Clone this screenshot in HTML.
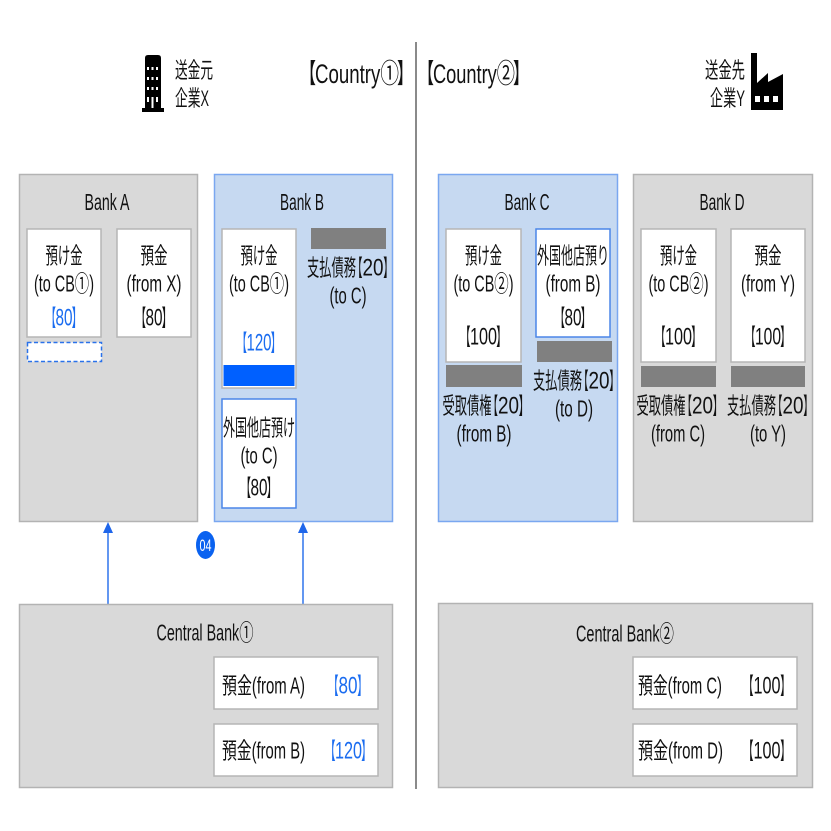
<!DOCTYPE html>
<html><head><meta charset="utf-8"><style>
html,body{margin:0;padding:0;background:#fff;}
svg{display:block;}
text{font-family:"Liberation Sans","Noto Sans CJK JP",sans-serif;fill:#111;font-size:23px;}
.b{fill:#1a6cf0;}
.n{font-size:24px;}
</style></head><body>
<svg width="831" height="831" viewBox="0 0 831 831" xmlns="http://www.w3.org/2000/svg">
<rect x="0" y="0" width="831" height="831" fill="#fff"/>
<line x1="416" y1="42" x2="416" y2="789" stroke="#8a8a8a" stroke-width="2"/>

<!-- building icon -->
<path d="M145,58 Q145,55 148,55 L158,55 Q161,55 161,58 L161,108 L164,108 L164,112 L142,112 L142,108 L145,108 Z" fill="#000"/>
<g fill="#fff">
<rect x="147" y="67" width="2" height="3"/><rect x="151.5" y="67" width="2" height="3"/><rect x="156" y="67" width="2" height="3"/>
<rect x="147" y="77" width="2" height="3"/><rect x="151.5" y="77" width="2" height="3"/><rect x="156" y="77" width="2" height="3"/>
<rect x="147" y="87" width="2" height="3"/><rect x="151.5" y="87" width="2" height="3"/><rect x="156" y="87" width="2" height="3"/>
<rect x="147" y="97" width="2" height="5"/><rect x="151.5" y="97" width="2" height="11"/><rect x="156" y="97" width="2" height="5"/>
</g>
<text x="175" y="78" style="font-size:22px" textLength="38" lengthAdjust="spacingAndGlyphs">送金元</text>
<text x="175" y="106" style="font-size:22px" textLength="34" lengthAdjust="spacingAndGlyphs">企業X</text>

<text x="300" y="83" style="font-size:27px" textLength="16" lengthAdjust="spacingAndGlyphs">【</text>
<text x="315" y="83" style="font-size:27px" textLength="84" lengthAdjust="spacingAndGlyphs">Country①</text>
<text x="397" y="83" style="font-size:27px" textLength="16" lengthAdjust="spacingAndGlyphs">】</text>
<text x="418" y="83" style="font-size:27px" textLength="16" lengthAdjust="spacingAndGlyphs">【</text>
<text x="433" y="83" style="font-size:27px" textLength="82" lengthAdjust="spacingAndGlyphs">Country②</text>
<text x="513" y="83" style="font-size:27px" textLength="16" lengthAdjust="spacingAndGlyphs">】</text>

<text x="705" y="78" style="font-size:22px" textLength="40" lengthAdjust="spacingAndGlyphs">送金先</text>
<text x="710" y="106" style="font-size:22px" textLength="35" lengthAdjust="spacingAndGlyphs">企業Y</text>
<path d="M751,53 L757,53 L757,83 L768,73 L768,82 L783,74 L783,110 L751,110 Z" fill="#000"/>
<g fill="#fff">
<rect x="755" y="96" width="5" height="6"/><rect x="764" y="96" width="5" height="6"/><rect x="773" y="96" width="5" height="6"/>
</g>

<!-- Bank A -->
<rect x="19.5" y="174.5" width="178" height="347" fill="#d9d9d9" stroke="#b3b3b3" stroke-width="1.5"/>
<text x="107" y="210" text-anchor="middle" textLength="45" lengthAdjust="spacingAndGlyphs">Bank A</text>
<rect x="27" y="229" width="74" height="108" fill="#fff" stroke="#b5b5b5" stroke-width="1.5"/>
<text x="64" y="263.5" text-anchor="middle" textLength="37" lengthAdjust="spacingAndGlyphs">預け金</text>
<text x="64" y="291.5" text-anchor="middle" textLength="60" lengthAdjust="spacingAndGlyphs">(to CB①)</text>
<text class="b" x="46" y="325.5" textLength="10" lengthAdjust="spacingAndGlyphs">【</text>
<text class="b n" x="55.5" y="325.5" textLength="17" lengthAdjust="spacingAndGlyphs">80</text>
<text class="b" x="71.8" y="325.5" textLength="10" lengthAdjust="spacingAndGlyphs">】</text>
<rect x="117" y="229" width="74" height="108" fill="#fff" stroke="#b5b5b5" stroke-width="1.5"/>
<text x="154" y="263.5" text-anchor="middle" textLength="27" lengthAdjust="spacingAndGlyphs">預金</text>
<text x="154" y="291.5" text-anchor="middle" textLength="55" lengthAdjust="spacingAndGlyphs">(from X)</text>
<text x="136" y="325.5" textLength="10" lengthAdjust="spacingAndGlyphs">【</text>
<text class="n" x="145.5" y="325.5" textLength="17" lengthAdjust="spacingAndGlyphs">80</text>
<text x="161.8" y="325.5" textLength="10" lengthAdjust="spacingAndGlyphs">】</text>
<rect x="27.5" y="342.5" width="74" height="19" fill="#fff" stroke="#2a72ea" stroke-width="1.5" stroke-dasharray="4,2.5"/>

<!-- Bank B -->
<rect x="214.5" y="174.5" width="178" height="347" fill="#c6d9f1" stroke="#7aa7f0" stroke-width="1.5"/>
<text x="302" y="210" text-anchor="middle" textLength="44" lengthAdjust="spacingAndGlyphs">Bank B</text>
<rect x="222" y="229" width="74" height="159" fill="#fff" stroke="#b5b5b5" stroke-width="1.5"/>
<text x="259" y="263.5" text-anchor="middle" textLength="37" lengthAdjust="spacingAndGlyphs">預け金</text>
<text x="259" y="291.5" text-anchor="middle" textLength="60" lengthAdjust="spacingAndGlyphs">(to CB①)</text>
<text class="b" x="237" y="350.5" textLength="10" lengthAdjust="spacingAndGlyphs">【</text>
<text class="b n" x="246.5" y="350.5" textLength="25" lengthAdjust="spacingAndGlyphs">120</text>
<text class="b" x="270.8" y="350.5" textLength="10" lengthAdjust="spacingAndGlyphs">】</text>
<rect x="223.5" y="365" width="71" height="21" fill="#0060ff"/>
<rect x="311" y="228" width="75" height="21" fill="#808080"/>
<text x="307" y="275.5" textLength="49" lengthAdjust="spacingAndGlyphs">支払債務</text>
<text x="352.5" y="275.5" textLength="10" lengthAdjust="spacingAndGlyphs">【</text>
<text class="n" x="362.5" y="275.5" textLength="21" lengthAdjust="spacingAndGlyphs">20</text>
<text x="383.3" y="275.5" textLength="10" lengthAdjust="spacingAndGlyphs">】</text>
<text x="348" y="303.5" text-anchor="middle" textLength="37" lengthAdjust="spacingAndGlyphs">(to C)</text>
<rect x="222" y="399" width="74" height="109" fill="#fff" stroke="#4a86e8" stroke-width="1.5"/>
<text x="259" y="435.5" text-anchor="middle" textLength="72" lengthAdjust="spacingAndGlyphs">外国他店預け</text>
<text x="259" y="463.5" text-anchor="middle" textLength="37" lengthAdjust="spacingAndGlyphs">(to C)</text>
<text x="241" y="495.5" textLength="10" lengthAdjust="spacingAndGlyphs">【</text>
<text class="n" x="250.5" y="495.5" textLength="17" lengthAdjust="spacingAndGlyphs">80</text>
<text x="266.8" y="495.5" textLength="10" lengthAdjust="spacingAndGlyphs">】</text>

<!-- Bank C -->
<rect x="438.5" y="174.5" width="179" height="347" fill="#c6d9f1" stroke="#7aa7f0" stroke-width="1.5"/>
<text x="527" y="210" text-anchor="middle" textLength="45" lengthAdjust="spacingAndGlyphs">Bank C</text>
<rect x="446" y="229" width="75" height="133" fill="#fff" stroke="#b5b5b5" stroke-width="1.5"/>
<text x="483.5" y="263.5" text-anchor="middle" textLength="37" lengthAdjust="spacingAndGlyphs">預け金</text>
<text x="483.5" y="291.5" text-anchor="middle" textLength="60" lengthAdjust="spacingAndGlyphs">(to CB②)</text>
<text x="460.5" y="344.5" textLength="10" lengthAdjust="spacingAndGlyphs">【</text>
<text class="n" x="470" y="344.5" textLength="27" lengthAdjust="spacingAndGlyphs">100</text>
<text x="496.3" y="344.5" textLength="10" lengthAdjust="spacingAndGlyphs">】</text>
<rect x="446" y="365" width="76" height="22" fill="#808080"/>
<text x="442.5" y="413.5" textLength="49" lengthAdjust="spacingAndGlyphs">受取債権</text>
<text x="488" y="413.5" textLength="10" lengthAdjust="spacingAndGlyphs">【</text>
<text class="n" x="498" y="413.5" textLength="21" lengthAdjust="spacingAndGlyphs">20</text>
<text x="518.8" y="413.5" textLength="10" lengthAdjust="spacingAndGlyphs">】</text>
<text x="484" y="441.5" text-anchor="middle" textLength="55" lengthAdjust="spacingAndGlyphs">(from B)</text>
<rect x="536" y="229" width="74" height="108" fill="#fff" stroke="#4a86e8" stroke-width="1.5"/>
<text x="573" y="263.5" text-anchor="middle" textLength="72" lengthAdjust="spacingAndGlyphs">外国他店預り</text>
<text x="573" y="291.5" text-anchor="middle" textLength="55" lengthAdjust="spacingAndGlyphs">(from B)</text>
<text x="555" y="325.5" textLength="10" lengthAdjust="spacingAndGlyphs">【</text>
<text class="n" x="564.5" y="325.5" textLength="17" lengthAdjust="spacingAndGlyphs">80</text>
<text x="580.8" y="325.5" textLength="10" lengthAdjust="spacingAndGlyphs">】</text>
<rect x="537" y="341" width="75" height="21" fill="#808080"/>
<text x="533" y="388.5" textLength="49" lengthAdjust="spacingAndGlyphs">支払債務</text>
<text x="578.5" y="388.5" textLength="10" lengthAdjust="spacingAndGlyphs">【</text>
<text class="n" x="588.5" y="388.5" textLength="21" lengthAdjust="spacingAndGlyphs">20</text>
<text x="609.3" y="388.5" textLength="10" lengthAdjust="spacingAndGlyphs">】</text>
<text x="574" y="416.5" text-anchor="middle" textLength="38" lengthAdjust="spacingAndGlyphs">(to D)</text>

<!-- Bank D -->
<rect x="633.5" y="174.5" width="179" height="347" fill="#d9d9d9" stroke="#b3b3b3" stroke-width="1.5"/>
<text x="722" y="210" text-anchor="middle" textLength="45" lengthAdjust="spacingAndGlyphs">Bank D</text>
<rect x="641" y="229" width="75" height="133" fill="#fff" stroke="#b5b5b5" stroke-width="1.5"/>
<text x="678.5" y="263.5" text-anchor="middle" textLength="37" lengthAdjust="spacingAndGlyphs">預け金</text>
<text x="678.5" y="291.5" text-anchor="middle" textLength="60" lengthAdjust="spacingAndGlyphs">(to CB②)</text>
<text x="655.5" y="344.5" textLength="10" lengthAdjust="spacingAndGlyphs">【</text>
<text class="n" x="665" y="344.5" textLength="27" lengthAdjust="spacingAndGlyphs">100</text>
<text x="691.3" y="344.5" textLength="10" lengthAdjust="spacingAndGlyphs">】</text>
<rect x="731" y="229" width="74" height="133" fill="#fff" stroke="#b5b5b5" stroke-width="1.5"/>
<text x="768" y="263.5" text-anchor="middle" textLength="27" lengthAdjust="spacingAndGlyphs">預金</text>
<text x="768" y="291.5" text-anchor="middle" textLength="54" lengthAdjust="spacingAndGlyphs">(from Y)</text>
<text x="745.5" y="344.5" textLength="10" lengthAdjust="spacingAndGlyphs">【</text>
<text class="n" x="755" y="344.5" textLength="26" lengthAdjust="spacingAndGlyphs">100</text>
<text x="780.3" y="344.5" textLength="10" lengthAdjust="spacingAndGlyphs">】</text>
<rect x="641" y="366" width="75" height="21" fill="#808080"/>
<rect x="731" y="366" width="74" height="21" fill="#808080"/>
<text x="636.5" y="413.5" textLength="49" lengthAdjust="spacingAndGlyphs">受取債権</text>
<text x="682" y="413.5" textLength="10" lengthAdjust="spacingAndGlyphs">【</text>
<text class="n" x="692" y="413.5" textLength="21" lengthAdjust="spacingAndGlyphs">20</text>
<text x="712.8" y="413.5" textLength="10" lengthAdjust="spacingAndGlyphs">】</text>
<text x="678" y="441.5" text-anchor="middle" textLength="54" lengthAdjust="spacingAndGlyphs">(from C)</text>
<text x="727" y="413.5" textLength="49" lengthAdjust="spacingAndGlyphs">支払債務</text>
<text x="772.5" y="413.5" textLength="10" lengthAdjust="spacingAndGlyphs">【</text>
<text class="n" x="782.5" y="413.5" textLength="21" lengthAdjust="spacingAndGlyphs">20</text>
<text x="803.3" y="413.5" textLength="10" lengthAdjust="spacingAndGlyphs">】</text>
<text x="768" y="441.5" text-anchor="middle" textLength="36" lengthAdjust="spacingAndGlyphs">(to Y)</text>

<!-- arrows -->
<line x1="108" y1="604" x2="108" y2="531" stroke="#2f74ec" stroke-width="1.5"/>
<path d="M108,522 L103,533 L113,533 Z" fill="#1f66ea"/>
<line x1="303" y1="604" x2="303" y2="531" stroke="#2f74ec" stroke-width="1.5"/>
<path d="M303,522 L298,533 L308,533 Z" fill="#1f66ea"/>

<!-- 04 badge -->
<ellipse cx="205.5" cy="545" rx="9.5" ry="14" fill="#0a62f0"/>
<text x="205.5" y="551" style="font-size:17px;fill:#fff" text-anchor="middle" textLength="12" lengthAdjust="spacingAndGlyphs">04</text>

<!-- Central Bank 1 -->
<rect x="19.5" y="604.5" width="373" height="183" fill="#d9d9d9" stroke="#b3b3b3" stroke-width="1.5"/>
<text x="205" y="640.5" text-anchor="middle" textLength="97" lengthAdjust="spacingAndGlyphs">Central Bank①</text>
<rect x="214" y="657" width="164" height="52" fill="#fff" stroke="#b5b5b5" stroke-width="1.5"/>
<text x="222" y="693.5" textLength="83" lengthAdjust="spacingAndGlyphs">預金(from A)</text>
<text class="b" x="328.5" y="693.5" textLength="10" lengthAdjust="spacingAndGlyphs">【</text>
<text class="b n" x="338.5" y="693.5" textLength="19" lengthAdjust="spacingAndGlyphs">80</text>
<text class="b" x="357.3" y="693.5" textLength="10" lengthAdjust="spacingAndGlyphs">】</text>
<rect x="214" y="724" width="164" height="52" fill="#fff" stroke="#b5b5b5" stroke-width="1.5"/>
<text x="222" y="758.5" textLength="83" lengthAdjust="spacingAndGlyphs">預金(from B)</text>
<text class="b" x="325.5" y="758.5" textLength="10" lengthAdjust="spacingAndGlyphs">【</text>
<text class="b n" x="335" y="758.5" textLength="27" lengthAdjust="spacingAndGlyphs">120</text>
<text class="b" x="361.3" y="758.5" textLength="10" lengthAdjust="spacingAndGlyphs">】</text>

<!-- Central Bank 2 -->
<rect x="438.5" y="603.5" width="374" height="184" fill="#d9d9d9" stroke="#b3b3b3" stroke-width="1.5"/>
<text x="625" y="641.5" text-anchor="middle" textLength="98" lengthAdjust="spacingAndGlyphs">Central Bank②</text>
<rect x="633" y="657" width="164" height="52" fill="#fff" stroke="#b5b5b5" stroke-width="1.5"/>
<text x="638" y="693.5" textLength="84" lengthAdjust="spacingAndGlyphs">預金(from C)</text>
<text x="743.5" y="693.5" textLength="10" lengthAdjust="spacingAndGlyphs">【</text>
<text class="n" x="753.5" y="693.5" textLength="27" lengthAdjust="spacingAndGlyphs">100</text>
<text x="780.3" y="693.5" textLength="10" lengthAdjust="spacingAndGlyphs">】</text>
<rect x="633" y="724" width="164" height="52" fill="#fff" stroke="#b5b5b5" stroke-width="1.5"/>
<text x="638" y="758.5" textLength="85" lengthAdjust="spacingAndGlyphs">預金(from D)</text>
<text x="743.5" y="758.5" textLength="10" lengthAdjust="spacingAndGlyphs">【</text>
<text class="n" x="753.5" y="758.5" textLength="27" lengthAdjust="spacingAndGlyphs">100</text>
<text x="780.3" y="758.5" textLength="10" lengthAdjust="spacingAndGlyphs">】</text>
</svg>
</body></html>
